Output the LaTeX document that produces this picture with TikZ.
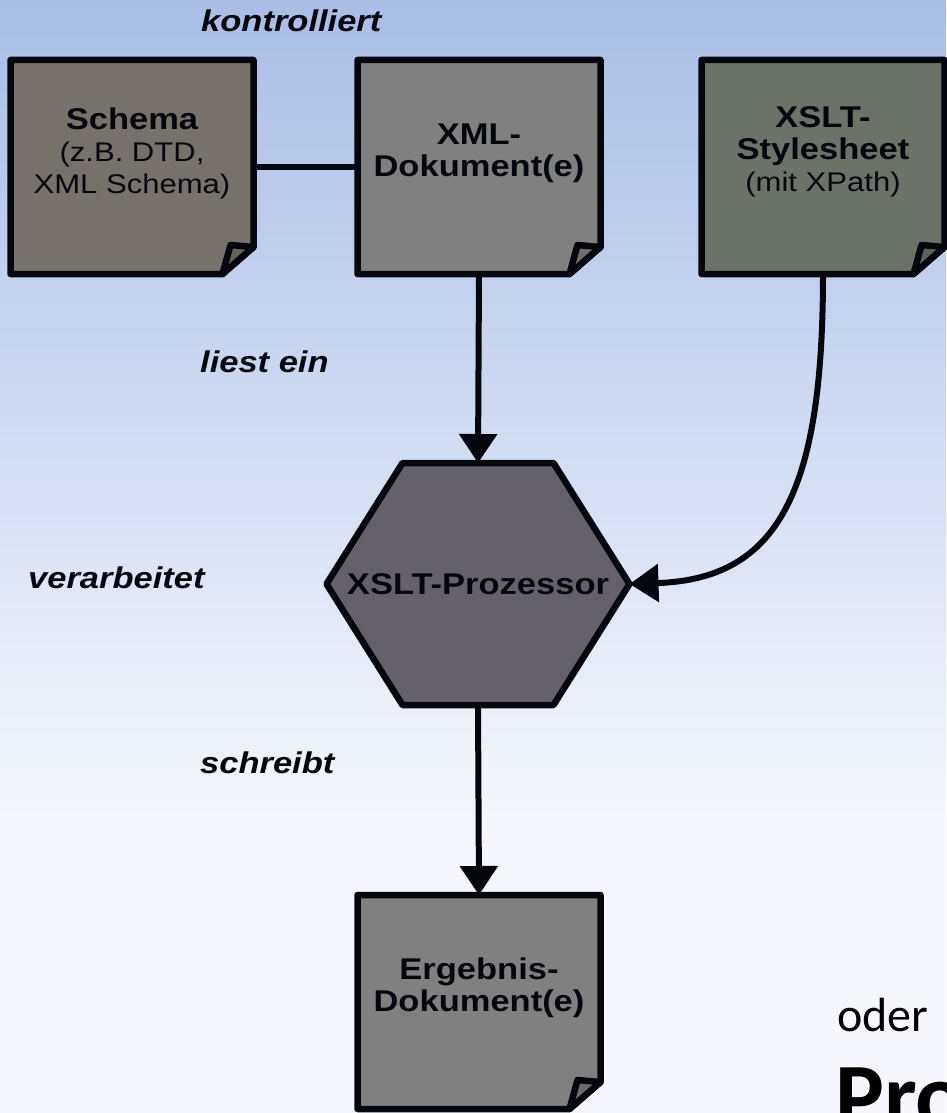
\documentclass[tikz,border=0pt]{standalone}
\usepackage{fontspec}
\usepackage{xcolor}
\usepackage{tikz}
\usetikzlibrary{arrows.meta, calc}
\newfontfamily\diafont[FakeStretch=1.15]{Liberation Sans}
\newfontfamily\slidefont{Carlito}
\definecolor{xbgtop}{HTML}{A9BDE6}
\definecolor{xbgbot}{HTML}{F5F7FC}
\definecolor{xline}{HTML}{06060E}
\definecolor{xschema}{HTML}{76716A}
\definecolor{xdoc}{HTML}{808080}
\definecolor{xxslt}{HTML}{6B7369}
\definecolor{xproc}{HTML}{64616B}
\tikzset{
  boxline/.style={draw=xline, line width=6.5pt, line join=round},
  flow/.style={draw=xline, line width=6pt, -{Triangle[length=29pt, width=37pt]}},
  docbox/.style={rectangle, draw=none, inner sep=0pt, outer sep=0pt,
                 minimum width=243pt, minimum height=214pt},
  doctext/.style={align=center, text=xline, inner sep=0pt,
                  font=\diafont\bfseries\fontsize{30}{32}\selectfont},
  verb/.style={anchor=base west, inner sep=0pt, text=xline,
               font=\diafont\bfseries\itshape\fontsize{30}{32}\selectfont},
}
\newcommand{\subline}[1]{{\mdseries\fontsize{27}{32}\selectfont #1}}
% sheet with a dog-eared lower right corner, drawn round a docbox node
\newcommand{\dogear}[2]{%
  \filldraw[fill=#2, boxline] (#1.north west) -- (#1.north east)
    -- ([yshift=27pt]#1.south east) -- ([xshift=-31pt]#1.south east)
    -- (#1.south west) -- cycle;
  \filldraw[fill=#2!85!black, boxline] ([yshift=27pt]#1.south east)
    -- ([xshift=-23pt, yshift=29pt]#1.south east)
    -- ([xshift=-31pt]#1.south east) -- cycle;
}

\begin{document}
\begin{tikzpicture}[x=1pt, y=-1pt]
  \useasboundingbox (0,0) rectangle (946,1113);
  \shade[top color=xbgtop, bottom color=xbgbot] (0,0) rectangle (946,821);
  \fill[xbgbot] (0,820) rectangle (946,1113);

  \node[docbox] (schema) at (132,167) {};
  \node[docbox] (xml) at (479,167) {};
  \node[docbox] (xslt) at (823,167) {};
  \node[docbox] (result) at (479,1002) {};
  \node[rectangle, inner sep=0pt, outer sep=0pt,
        minimum width=303pt, minimum height=242pt] (proc) at (478,584) {};

  \dogear{schema}{xschema}
  \dogear{xml}{xdoc}
  \dogear{xslt}{xxslt}
  \dogear{result}{xdoc}
  \filldraw[fill=xproc, boxline] (proc.west) -- ([xshift=76pt]proc.north west)
    -- ([xshift=-76pt]proc.north east) -- (proc.east)
    -- ([xshift=-76pt]proc.south east) -- ([xshift=76pt]proc.south west) -- cycle;

  \node[doctext] (schema-t) at ([yshift=14pt]schema.center)
    {Schema\\ \subline{(z.B. DTD,}\\ \subline{XML Schema)}};
  \node[doctext] (xml-t) at ([yshift=14pt]xml.center) {XML-\\ Dokument(e)};
  \node[doctext] (xslt-t) at ([yshift=15pt]xslt.center)
    {XSLT-\\ Stylesheet\\ \subline{(mit XPath)}};
  \node[doctext] (result-t) at ([yshift=14pt]result.center) {Ergebnis-\\ Dokument(e)};
  \node[doctext] (proc-t) at (proc.center) {XSLT-Prozessor};

  \draw[boxline, line width=6pt] (schema.east) -- (xml.west);
  \draw[flow] (xml.south) -- (proc.north);
  \draw[flow] (xslt.south) .. controls +(0,216) and +(150,-5) .. (proc.east);
  \draw[flow] (proc.south) -- (result.north);

  \node[verb] (controls) at (201,32) {kontrolliert};
  \node[verb] (reads) at (200,372) {liest ein};
  \node[verb] (handles) at (28,588) {verarbeitet};
  \node[verb] (writes) at (200,773) {schreibt};

  \node[anchor=base west, inner sep=0pt, text=black,
        font=\slidefont\fontsize{48}{56}\selectfont] (oder) at (837,1031) {oder};
  \node[anchor=base west, inner sep=0pt, text=black,
        font=\slidefont\bfseries\fontsize{92}{100}\selectfont] (pro) at (835,1127) {Pro};
\end{tikzpicture}
\end{document}
